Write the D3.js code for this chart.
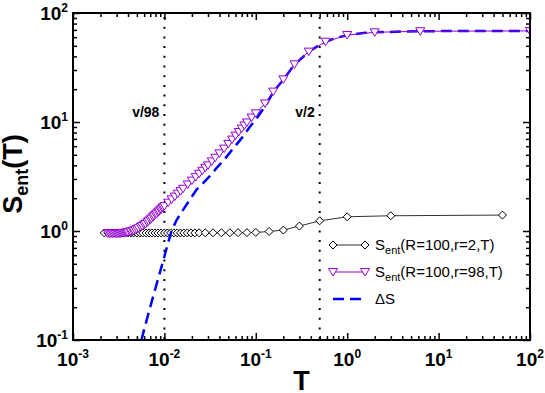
<!DOCTYPE html>
<html>
<head>
<meta charset="utf-8">
<script src="https://cdn.jsdelivr.net/npm/d3@7"></script>
<style>
  body { margin: 0; background: #fff; }
  text { font-family: "Liberation Sans", Arial, Helvetica, sans-serif; }
</style>
</head>
<body>
<svg id="chart" width="545" height="393"></svg>
<script>
// S_ent(R=100, r=2, T)  -- black diamonds
var tR2 = [0.0022, 0.0024, 0.0026, 0.0028, 0.003, 0.0032, 0.0034, 0.0037, 0.004, 0.0043,
           0.0046, 0.005, 0.0054, 0.0058, 0.0063, 0.0068, 0.0073, 0.0079, 0.0085, 0.0092,
           0.01, 0.0108, 0.0117, 0.0127, 0.0138, 0.015, 0.0163, 0.0178, 0.0195, 0.0215,
           0.024, 0.028, 0.034, 0.042, 0.052, 0.064, 0.08, 0.1, 0.14, 0.2,
           0.3, 0.5, 1, 3, 50];
var sR2 = [0.96, 0.96, 0.96, 0.96, 0.96, 0.96, 0.96, 0.96, 0.96, 0.96,
           0.96, 0.96, 0.96, 0.96, 0.96, 0.96, 0.96, 0.96, 0.96, 0.96,
           0.96, 0.96, 0.96, 0.96, 0.96, 0.96, 0.96, 0.96, 0.96, 0.96,
           0.962, 0.962, 0.963, 0.963, 0.964, 0.965, 0.966, 0.97, 0.99, 1.02,
           1.11, 1.24, 1.35, 1.38, 1.40];

// S_ent(R=100, r=98, T)  -- violet triangles
var tR98 = [0.0024, 0.0025, 0.0026, 0.0027, 0.0028, 0.0029, 0.003, 0.0031, 0.0032, 0.0033,
            0.0034, 0.0035, 0.0036, 0.0037, 0.0038, 0.0039, 0.004, 0.0042, 0.0043, 0.0045,
            0.0046, 0.0048, 0.005, 0.0052, 0.0055, 0.0057, 0.006, 0.0062, 0.0065, 0.0067,
            0.007, 0.0072, 0.0075, 0.0077, 0.008, 0.0082, 0.0085, 0.0087, 0.009, 0.0092,
            0.0095, 0.0097, 0.01, 0.011, 0.012, 0.013, 0.014, 0.015, 0.016, 0.018,
            0.02, 0.022, 0.024, 0.026, 0.028, 0.03, 0.033, 0.036, 0.04, 0.045,
            0.05, 0.055, 0.06, 0.065, 0.07, 0.075, 0.08, 0.09, 0.1, 0.126,
            0.155, 0.2, 0.265, 0.38, 0.58, 1.0, 2.0, 6.3, 100];
var sR98 = [0.95, 0.95, 0.95, 0.95, 0.95, 0.95, 0.95, 0.95, 0.95, 0.952,
            0.955, 0.957, 0.96, 0.962, 0.965, 0.97, 0.975, 0.985, 0.99, 1.0,
            1.01, 1.025, 1.04, 1.06, 1.09, 1.11, 1.14, 1.16, 1.2, 1.23,
            1.27, 1.3, 1.34, 1.37, 1.41, 1.44, 1.48, 1.51, 1.55, 1.58,
            1.62, 1.65, 1.69, 1.82, 1.95, 2.07, 2.2, 2.32, 2.44, 2.67,
            2.9, 3.12, 3.35, 3.57, 3.8, 4.0, 4.35, 4.7, 5.15, 5.7,
            6.3, 6.9, 7.5, 8.1, 8.7, 9.3, 9.9, 11.0, 12.0, 14.8,
            19.0, 24.6, 33.8, 44.2, 54.5, 62.8, 66.5, 68.0, 68.5];

// Delta S  -- blue dashed
var tDS = [0.0056, 0.0065, 0.0075, 0.0085, 0.0095, 0.0105, 0.012, 0.0136, 0.016, 0.019,
           0.0225, 0.027, 0.0315, 0.038, 0.046, 0.058, 0.072, 0.085, 0.103, 0.133,
           0.155, 0.2, 0.265, 0.38, 0.5, 0.58, 0.75, 1.0, 1.5, 2.0,
           4, 10, 100];
var sDS = [0.1, 0.16, 0.247, 0.36, 0.5, 0.68, 1.01, 1.26, 1.56, 1.94,
           2.4, 2.79, 3.2, 3.86, 4.6, 5.86, 7.3, 8.9, 10.9, 14.9,
           18.8, 24.5, 33.6, 44.1, 51.0, 54.5, 59.0, 62.6, 65.5, 66.5,
           67.6, 68.2, 68.5];

var xTickExps = ["-3", "-2", "-1", "0", "1", "2"];
var yTickExps = ["-1", "0", "1", "2"];
var markTemps = [0.01, 0.5];
var markLabels = ["v/98", "v/2"];
var legendLabels = [["S", "ent", "(R=100,r=2,T)"], ["S", "ent", "(R=100,r=98,T)"], ["\u0394S", "", ""]];

var svg = d3.select("#chart");
var pL = 73, pR = 530, pT = 13, pB = 340;

var x = d3.scaleLog().domain([1e-3, 1e2]).range([pL, pR]);
var y = d3.scaleLog().domain([0.1, 100]).range([pB, pT]);

var violet = "#9400d3";

function pts(ts, ss) { return ts.map(function(t, i) { return [t, ss[i]]; }); }
var line = d3.line().x(function(d) { return x(d[0]); }).y(function(d) { return y(d[1]); });

svg.append("clipPath").attr("id", "plotclip")
  .append("rect").attr("x", pL).attr("y", pT).attr("width", pR - pL).attr("height", pB - pT);

// ticks, inward on all four sides
var xMajor = xTickExps.map(function(e) { return Math.pow(10, +e); });
var yMajor = yTickExps.map(function(e) { return Math.pow(10, +e); });
function isMajor(v) { var l = Math.log10(v); return Math.abs(l - Math.round(l)) < 1e-9; }
var xMinor = x.ticks().filter(function(v) { return !isMajor(v); });
var yMinor = y.ticks().filter(function(v) { return !isMajor(v); });

function drawAxis(axis, tr) {
  var g = svg.append("g").attr("transform", tr).call(axis);
  g.select(".domain").remove();
  g.selectAll("line").attr("stroke", "#000").attr("stroke-width", 1.5);
}
drawAxis(d3.axisBottom(x).tickValues(xMajor).tickSize(-7).tickFormat(""), "translate(0," + pB + ")");
drawAxis(d3.axisBottom(x).tickValues(xMinor).tickSize(-4).tickFormat(""), "translate(0," + pB + ")");
drawAxis(d3.axisTop(x).tickValues(xMajor).tickSize(-7).tickFormat(""), "translate(0," + pT + ")");
drawAxis(d3.axisTop(x).tickValues(xMinor).tickSize(-4).tickFormat(""), "translate(0," + pT + ")");
drawAxis(d3.axisLeft(y).tickValues(yMajor).tickSize(-7).tickFormat(""), "translate(" + pL + ",0)");
drawAxis(d3.axisLeft(y).tickValues(yMinor).tickSize(-4).tickFormat(""), "translate(" + pL + ",0)");
drawAxis(d3.axisRight(y).tickValues(yMajor).tickSize(-7).tickFormat(""), "translate(" + pR + ",0)");
drawAxis(d3.axisRight(y).tickValues(yMinor).tickSize(-4).tickFormat(""), "translate(" + pR + ",0)");

// tick labels 10^n
xTickExps.forEach(function(e) {
  var t = svg.append("text").attr("x", x(Math.pow(10, +e))).attr("y", 366)
    .attr("text-anchor", "middle").attr("font-weight", "bold").attr("font-size", 19);
  t.append("tspan").text("10");
  t.append("tspan").attr("font-size", 12).attr("dy", -8).text(e);
});
yTickExps.forEach(function(e) {
  var t = svg.append("text").attr("x", 68).attr("y", y(Math.pow(10, +e)) + 7)
    .attr("text-anchor", "end").attr("font-weight", "bold").attr("font-size", 19);
  t.append("tspan").text("10");
  t.append("tspan").attr("font-size", 12).attr("dy", -8).text(e);
});

// axis titles
svg.append("text").attr("x", (pL + pR) / 2).attr("y", 390)
  .attr("text-anchor", "middle").attr("font-weight", "bold").attr("font-size", 27).text("T");
var yt = svg.append("text").attr("transform", "translate(22,174) rotate(-90)")
  .attr("text-anchor", "middle").attr("font-weight", "bold").attr("font-size", 27);
yt.append("tspan").text("S");
yt.append("tspan").attr("font-size", 18).attr("dy", 6).text("ent");
yt.append("tspan").attr("dy", -6).text("(T)");

// dotted markers
markTemps.forEach(function(t, i) {
  svg.append("line").attr("x1", x(t)).attr("x2", x(t)).attr("y1", pT + 4).attr("y2", pB)
    .attr("stroke", "#000").attr("stroke-width", 2).attr("stroke-dasharray", "2 7.7");
  svg.append("text").attr("x", x(t) - 5).attr("y", 117).attr("text-anchor", "end")
    .attr("font-weight", "bold").attr("font-size", 14).text(markLabels[i]);
});

var plot = svg.append("g").attr("clip-path", "url(#plotclip)");
var diamond = "M0,-4L4,0L0,4L-4,0Z";
var tri = "M-4.5,-3.5L4.5,-3.5L0,4Z";

// r=2 series
plot.append("path").datum(pts(tR2, sR2)).attr("d", line)
  .attr("fill", "none").attr("stroke", "#333").attr("stroke-width", 1);
plot.selectAll(".dia").data(pts(tR2, sR2)).enter().append("path")
  .attr("d", diamond).attr("transform", function(d) { return "translate(" + x(d[0]) + "," + y(d[1]) + ")"; })
  .attr("fill", "#fff").attr("stroke", "#000").attr("stroke-width", 1);

// delta S
plot.append("path").datum(pts(tDS, sDS)).attr("d", line)
  .attr("fill", "none").attr("stroke", "#0000ff").attr("stroke-width", 2.5).attr("stroke-dasharray", "11 6");

// r=98 series
plot.append("path").datum(pts(tR98, sR98)).attr("d", line)
  .attr("fill", "none").attr("stroke", violet).attr("stroke-width", 1);
plot.selectAll(".tri").data(pts(tR98, sR98)).enter().append("path")
  .attr("d", tri).attr("transform", function(d) { return "translate(" + x(d[0]) + "," + y(d[1]) + ")"; })
  .attr("fill", "#fff").attr("stroke", violet).attr("stroke-width", 1);

// frame
svg.append("rect").attr("x", pL).attr("y", pT).attr("width", pR - pL).attr("height", pB - pT)
  .attr("fill", "none").attr("stroke", "#000").attr("stroke-width", 2);

// legend
var legRows = [245, 272, 299];
legendLabels.forEach(function(lab, i) {
  var ly = legRows[i];
  var g = svg.append("g");
  if (i === 0) {
    g.append("line").attr("x1", 333).attr("x2", 365).attr("y1", ly).attr("y2", ly).attr("stroke", "#333").attr("stroke-width", 1);
    [333, 365].forEach(function(px) {
      g.append("path").attr("d", diamond).attr("transform", "translate(" + px + "," + ly + ")")
        .attr("fill", "#fff").attr("stroke", "#000");
    });
  } else if (i === 1) {
    g.append("line").attr("x1", 333).attr("x2", 365).attr("y1", ly).attr("y2", ly).attr("stroke", violet).attr("stroke-width", 1);
    [333, 365].forEach(function(px) {
      g.append("path").attr("d", tri).attr("transform", "translate(" + px + "," + ly + ")")
        .attr("fill", "#fff").attr("stroke", violet);
    });
  } else {
    g.append("line").attr("x1", 333).attr("x2", 365).attr("y1", ly).attr("y2", ly)
      .attr("stroke", "#0000ff").attr("stroke-width", 2.5).attr("stroke-dasharray", "11 6");
  }
  var t = g.append("text").attr("x", 375).attr("y", ly + 5).attr("font-size", 15);
  t.append("tspan").text(lab[0]);
  if (lab[1]) {
    t.append("tspan").attr("font-size", 11).attr("dy", 4).text(lab[1]);
    t.append("tspan").attr("dy", -4).text(lab[2]);
  }
});
</script>
</body>
</html>
